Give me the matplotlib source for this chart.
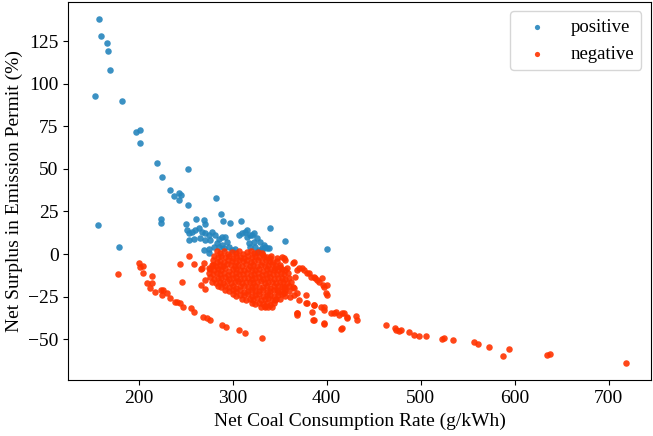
import matplotlib
matplotlib.use("Agg")
import matplotlib.pyplot as plt

plt.rcParams['font.family'] = ['Liberation Serif', 'DejaVu Serif']
plt.rcParams['font.size'] = 14

# puntos con superavit positivo
pos_x = [157.6, 159.8, 165.9, 167.6, 169.0, 153.7, 181.9, 196.8, 201.0, 201.0,
         219.8, 224.9, 252.9, 233.4, 237.7, 242.3, 243.3, 244.8, 252.9, 282.2,
         224.1, 224.1, 250.2, 261.1, 269.7, 270.7, 287.8, 289.6, 296.7, 308.8,
         340.1, 355.9, 400.8, 157.0, 179.0,
         251.2, 253.0, 256.5, 260.0, 263.6, 267.2, 270.7, 274.3, 277.9, 281.4,
         285.0, 288.5, 292.1, 293.9, 253.0, 258.3, 265.4, 270.7, 276.1, 283.2,
         288.5, 269.0, 274.3, 279.6, 285.0, 290.3, 295.6, 299.2, 302.8, 274.3,
         306.3, 309.9, 313.4, 315.2, 318.8, 322.3, 325.9, 329.4, 322.3, 317.0,
         318.8, 324.1, 327.6, 331.2, 334.8, 338.3, 325.9, 315.2, 320.6, 333.0,
         336.6, 331.3]
pos_y = [138.0, 128.0, 124.0, 119.0, 108.0, 93.0, 89.8, 71.6, 73.0, 65.0,
         53.6, 45.0, 49.9, 37.6, 34.0, 36.0, 32.0, 34.6, 29.0, 32.7,
         20.4, 18.4, 17.6, 20.4, 20.0, 17.6, 23.3, 19.4, 18.4, 19.5,
         15.4, 7.4, 2.9, 17.0, 4.0,
         14.1, 12.1, 13.1, 14.1, 15.1, 13.1, 12.1, 11.2, 13.1, 11.2,
         8.6, 10.2, 9.8, 7.3, 8.2, 8.6, 9.2, 8.2, 8.2, 6.3,
         5.3, 2.4, 2.8, 4.0, 4.3, 3.3, 4.3, 2.4, 2.8, 0.4,
         11.2, 12.1, 13.1, 10.2, 11.2, 12.1, 9.2, 7.3, 7.3, 6.3,
         4.3, 4.3, 2.4, 3.3, 4.3, 3.3, 1.4, 14.1, 11.2, 5.3,
         3.3, 2.4]

# puntos negativos dispersos (bandas y cola derecha)
neg_x = [178.0, 200.0, 205.0, 201.4, 204.9, 213.9, 213.9, 208.5, 212.1, 217.4,
         223.2, 225.0, 226.3, 229.9, 233.4, 238.7, 240.5, 244.1, 247.6, 255.2,
         258.3, 268.9, 272.5, 276.1, 288.6, 293.2, 306.3, 313.4, 331.2,
         254.0, 244.0, 258.3, 269.0, 266.2, 278.5, 274.3, 246.5, 266.2, 270.8,
         267.2, 270.7,
         333.0, 347.2, 352.6, 356.1, 345.4, 350.8, 357.9, 365.0, 368.6, 373.9,
         379.2, 382.8, 388.1, 391.7, 397.0, 400.6, 398.8, 366.8, 347.2, 354.3,
         365.0, 361.5, 370.3, 377.5, 379.2, 386.4, 393.5, 397.0, 404.1, 409.5,
         413.0, 418.4, 421.9, 416.6, 386.4, 397.0, 368.6, 345.4, 334.8,
         340.5, 354.9, 363.9, 370.3, 375.7, 381.0, 386.3, 390.0, 395.3, 396.3,
         354.9, 368.6, 377.5, 386.3, 397.0, 407.7, 416.6, 421.9, 430.8, 432.6,
         385.6, 367.9, 367.9, 384.5, 397.7, 415.5, 400.6, 364.9,
         462.8, 472.4, 474.1, 477.0, 478.9, 487.7, 493.0, 498.4, 505.5, 523.3,
         524.5, 534.6, 556.4, 560.6, 572.4, 588.0, 593.7, 634.3, 637.8, 718.1]
neg_y = [-12.0, -5.0, -7.0, -7.4, -11.3, -12.9, -17.2, -17.2, -20.1, -22.1,
         -21.1, -24.1, -21.1, -23.1, -26.0, -28.0, -28.0, -28.9, -30.9, -31.9,
         -33.9, -36.8, -37.7, -38.7, -41.7, -42.7, -44.6, -46.2, -49.1,
         -1.2, -5.9, -6.0, -5.1, -9.0, -6.5, -8.4, -16.6, -18.2, -20.7,
         -8.4, -15.3,
         -1.5, -2.5, -2.0, -3.5, -8.4, -7.4, -8.4, -4.5, -9.4, -8.4,
         -11.3, -13.3, -14.3, -16.2, -19.2, -18.2, -23.1, -13.3, -21.1, -23.1,
         -20.1, -25.0, -27.0, -24.1, -28.9, -29.9, -30.9, -32.9, -34.8, -33.8,
         -35.8, -34.8, -36.8, -43.6, -38.7, -40.7, -34.8, -27.0, -30.9,
         -1.2, -2.5, -5.5, -8.4, -9.4, -11.3, -13.3, -15.3, -14.3, -18.2,
         -19.2, -23.1, -28.9, -29.9, -30.9, -34.8, -34.8, -37.7, -36.2, -38.7,
         -38.7, -34.8, -35.8, -33.9, -41.1, -44.0, -24.1, -24.0,
         -41.9, -43.3, -44.6, -45.2, -44.6, -46.0, -47.5, -48.0, -48.3, -50.0,
         -49.6, -50.3, -51.6, -52.8, -54.4, -59.7, -56.0, -59.3, -58.7, -63.8]

# nucleo denso de puntos negativos (300-360 g/kWh)
core_x = [283, 287, 291, 295, 299, 303, 307, 311, 315, 319, 323, 327, 331,
          280, 284, 288, 292, 296, 300, 304, 308, 312, 316, 320, 324, 328, 332, 336, 340,
          279, 283, 287, 291, 295, 299, 303, 307, 311, 315, 319, 323, 327, 331, 335, 339, 343, 347,
          278, 282, 286, 290, 294, 298, 302, 306, 310, 314, 318, 322, 326, 330, 334, 338, 342, 346, 350,
          276, 280, 284, 288, 292, 296, 300, 304, 308, 312, 316, 320, 324, 328, 332, 336, 340, 344, 348, 352, 356,
          275, 279, 283, 287, 291, 295, 299, 303, 307, 311, 315, 319, 323, 327, 331, 335, 339, 343, 347, 351, 355, 359,
          276, 280, 284, 288, 292, 296, 300, 304, 308, 312, 316, 320, 324, 328, 332, 336, 340, 344, 348, 352, 356, 360,
          278, 282, 286, 290, 294, 298, 302, 306, 310, 314, 318, 322, 326, 330, 334, 338, 342, 346, 350, 354, 358, 362,
          284, 288, 292, 296, 300, 304, 308, 312, 316, 320, 324, 328, 332, 336, 340, 344, 348, 352, 356, 360, 364,
          292, 296, 300, 304, 308, 312, 316, 320, 324, 328, 332, 336, 340, 344, 348, 352, 356, 360,
          300, 304, 308, 312, 316, 320, 324, 328, 332, 336, 340, 344, 348, 352, 356,
          310, 314, 318, 322, 326, 330, 334, 338, 342, 346, 350,
          320, 324, 328, 332, 336, 340, 344,
          330, 334, 338, 342]
core_y = [1.5, 0.5, 1.8, 0.2, 1.2, 0.8, 1.6, 0.3, 1.0, 1.7, 0.6, 1.3, 0.4,
          -1.2, -2.0, -1.0, -1.8, -1.4, -2.2, -0.9, -1.6, -2.1, -1.1, -1.7, -1.3, -2.0, -0.8, -1.5, -2.3,
          -3.6, -4.4, -3.9, -4.7, -3.4, -4.2, -4.8, -3.7, -4.3, -3.5, -4.6, -4.0, -3.8, -4.5, -3.3, -4.1, -4.9, -3.9,
          -6.2, -7.0, -6.4, -6.9, -6.0, -6.7, -7.2, -6.3, -6.8, -6.1, -7.1, -6.5, -6.9, -6.2, -7.3, -6.6, -6.0, -7.0, -6.4,
          -8.7, -9.5, -8.9, -9.3, -8.5, -9.7, -9.0, -8.6, -9.4, -9.1, -8.8, -9.6, -9.2, -8.6, -9.8, -9.0, -8.7, -9.4, -9.1, -8.8, -9.5,
          -11.2, -12.0, -11.4, -11.8, -11.0, -12.2, -11.5, -11.1, -11.9, -11.6, -11.3, -12.1, -11.7, -11.1, -12.3, -11.5, -11.2, -11.9, -11.6, -11.3, -12.0, -11.4,
          -13.7, -14.5, -13.9, -14.3, -13.5, -14.7, -14.0, -13.6, -14.4, -14.1, -13.8, -14.6, -14.2, -13.6, -14.8, -14.0, -13.7, -14.4, -14.1, -13.8, -14.5, -13.9,
          -16.2, -17.0, -16.4, -16.8, -16.0, -17.2, -16.5, -16.1, -16.9, -16.6, -16.3, -17.1, -16.7, -16.1, -17.3, -16.5, -16.2, -16.9, -16.6, -16.3, -17.0, -16.4,
          -18.7, -19.5, -18.9, -19.3, -18.5, -19.7, -19.0, -18.6, -19.4, -19.1, -18.8, -19.6, -19.2, -18.6, -19.8, -19.0, -18.7, -19.4, -19.1, -18.8, -19.5,
          -21.2, -22.0, -21.4, -21.8, -21.0, -22.2, -21.5, -21.1, -21.9, -21.6, -21.3, -22.1, -21.7, -21.1, -22.3, -21.5, -21.2, -21.9,
          -23.7, -24.5, -23.9, -24.3, -23.5, -24.7, -24.0, -23.6, -24.4, -24.1, -23.8, -24.6, -24.2, -23.6, -24.8,
          -26.2, -27.0, -26.4, -26.8, -26.0, -27.2, -26.5, -26.1, -26.9, -26.6, -26.3,
          -28.7, -29.5, -28.9, -29.3, -28.5, -29.7, -29.0,
          -31.2, -30.6, -31.4, -30.9]

color_pos = '#2585bd'
color_neg = '#ff3300'

fig = plt.figure(figsize=(6.53, 4.36), dpi=100)
ax = fig.add_axes([0.1046, 0.1284, 0.892, 0.867])

ax.scatter(pos_x, pos_y, s=22, color=color_pos, alpha=0.9, linewidths=0, label='positive')
ax.scatter(neg_x + core_x, neg_y + core_y, s=22, color=color_neg, alpha=0.9,
           linewidths=0, label='negative')

ax.set_xlim(125, 745)
ax.set_ylim(-74, 148)
ax.set_xticks([200, 300, 400, 500, 600, 700])
ax.set_yticks([-50, -25, 0, 25, 50, 75, 100, 125])
ax.set_xlabel('Net Coal Consumption Rate (g/kWh)')
ax.set_ylabel('Net Surplus in Emission Permit (%)')
ax.legend(loc='upper right', markerscale=0.8, fontsize=13.5)

fig.savefig('out.png', dpi=100)
